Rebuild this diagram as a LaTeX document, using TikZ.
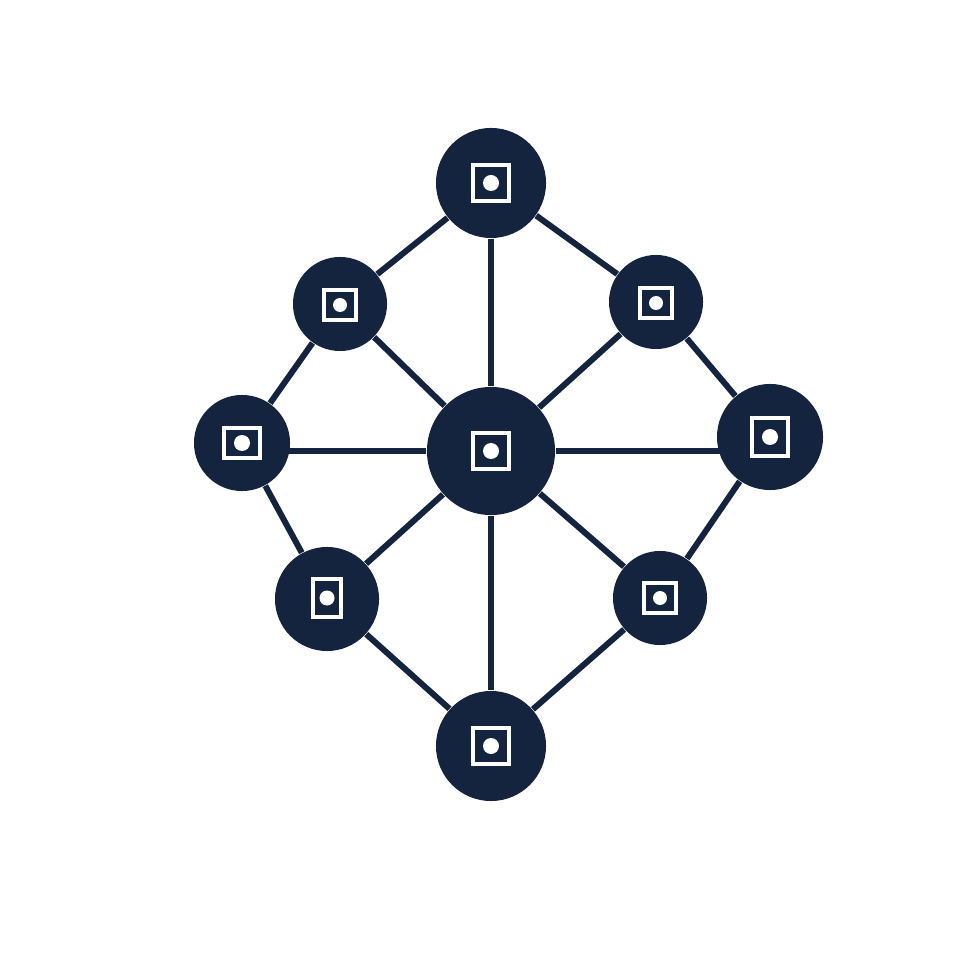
\documentclass[tikz,border=0pt]{standalone}
\usetikzlibrary{backgrounds}
\definecolor{navy}{RGB}{21,36,62}
\tikzset{
  hub/.style={circle, fill=navy, inner sep=0pt, minimum size=#1},
  link/.style={draw=navy, line width=1.7pt},
  iconbox/.style={draw=white, line width=0.9pt},
  icondot/.style={fill=white}
}
\begin{document}
\begin{tikzpicture}[x=0.01cm,y=-0.01cm]
\useasboundingbox (0,0) rectangle (980,980);
\node[hub=1.10cm] (t)  at (491,183) {};
\node[hub=0.94cm] (ul) at (340,304) {};
\node[hub=0.94cm] (ur) at (656,302) {};
\node[hub=0.96cm] (l)  at (242,443) {};
\node[hub=1.28cm] (c)  at (491,451) {};
\node[hub=1.06cm] (r)  at (770,437) {};
\node[hub=1.04cm] (ll) at (327,599) {};
\node[hub=0.94cm] (lr) at (660,598) {};
\node[hub=1.10cm] (b)  at (491,746) {};
\begin{scope}[on background layer]
\foreach \a/\bb in {t/ul,t/ur,t/c,ul/c,ur/c,ul/l,ur/r,l/ll,r/lr,c/ll,c/lr,c/b,ll/b,lr/b}
  \path[link] (\a) -- (\bb);
\path[link] (l |- c) -- (c);
\path[link] (c) -- (r |- c);
\end{scope}
% icons: centre x, centre y, half width, half height, dot radius
\foreach \x/\y/\w/\h/\d in {491/183/18/18/8, 491/451/18/18/8, 340/305/16/15/7, 656/303/16/15/7,
  242/443/18/15/8, 770/437/18/19/8, 327/598/14/19/7.5, 660/598/16/15/7, 491/746/18/18/8}
{
  \draw[iconbox] (\x-\w,\y-\h) rectangle (\x+\w,\y+\h);
  \fill[icondot] (\x,\y) circle[radius=\d];
}
\end{tikzpicture}
\end{document}
